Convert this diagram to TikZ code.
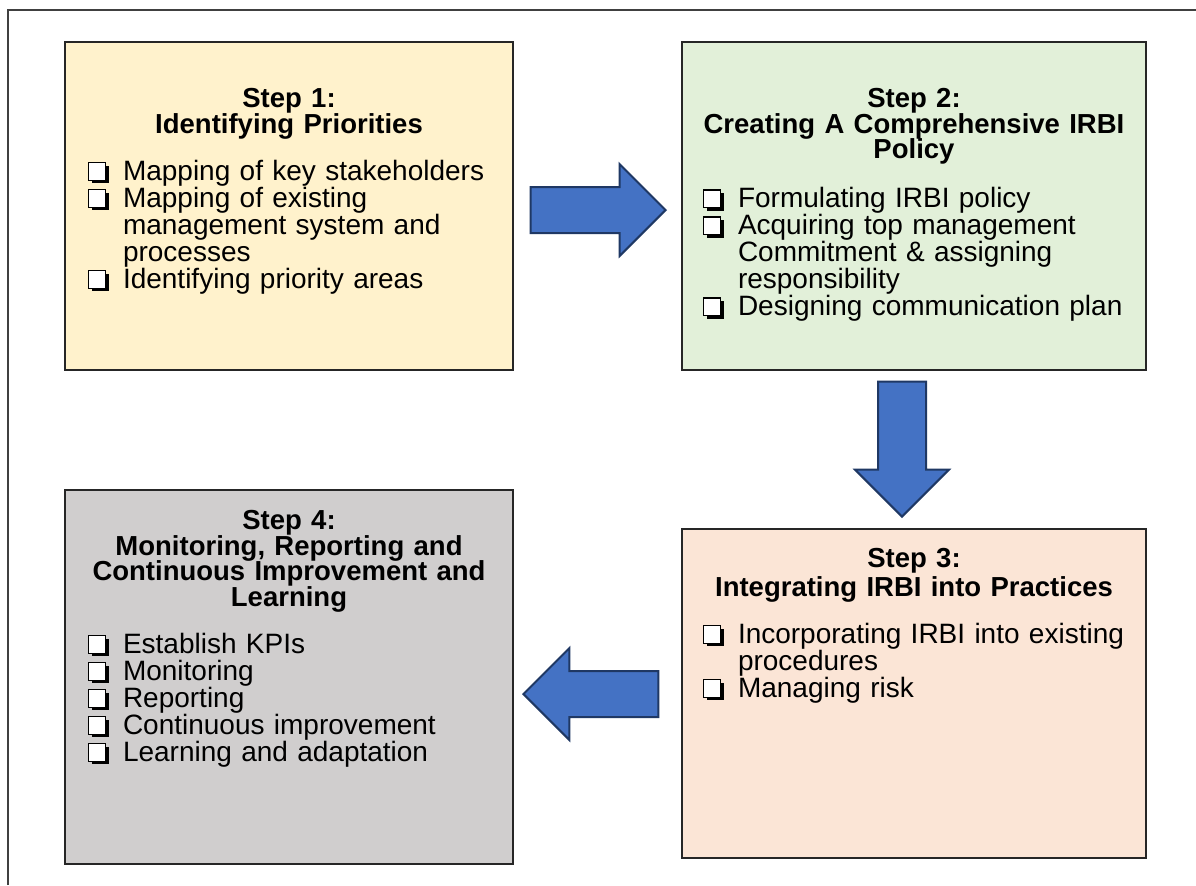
\documentclass[tikz,border=0pt]{standalone}
\usepackage{fontspec}
\setmainfont{Liberation Sans}
\usetikzlibrary{shapes.arrows,positioning}
\definecolor{stepyellow}{RGB}{255,242,204}
\definecolor{stepgreen}{RGB}{226,240,217}
\definecolor{steporange}{RGB}{251,229,214}
\definecolor{stepgray}{RGB}{208,206,206}
\definecolor{arrowblue}{RGB}{68,114,196}
\definecolor{arrowedge}{RGB}{31,56,100}
\tikzset{
  stepbox/.style={rectangle,draw=black!85,line width=0.75pt,fill=#1,inner sep=0pt},
  steptxt/.style={text width=#1,inner sep=0pt,anchor=north,
    font=\fontsize{14pt}{13.5pt}\selectfont,
    execute at begin node={\lineskiplimit=-20pt\raggedright}},
  blockarr/.style={single arrow,draw=arrowedge,fill=arrowblue,line width=1pt,
    minimum height=67.5pt,minimum width=45pt,single arrow head extend=11.5pt,
    single arrow tip angle=90,inner sep=11pt,anchor=tip},
  frameline/.style={draw=black!75,line width=0.8pt}
}
% shadowed check box in front of each item
\newcommand\chkbox{\tikz[baseline=0pt]{%
  \fill[black] (1.6pt,-1.6pt) rectangle (10.1pt,7.2pt);
  \draw[black,line width=0.55pt,fill=white] (0pt,0pt) rectangle (8.5pt,8.8pt);}}
\newcommand\stephead[1]{{\centering\bfseries\fontsize{13.75pt}{12.75pt}\selectfont #1\par}\vspace{10pt}}
\newcommand\stepitem[1]{\par\noindent\hangindent=17.5pt\hangafter=1%
  \makebox[17.5pt][l]{\chkbox}#1\par}

\begin{document}
\begin{tikzpicture}[x=0.5pt,y=-0.5pt]
    \fill[white] (0,0) rectangle (1196,885);
    \useasboundingbox (0,0) rectangle (1196,885);

    % Frame, top and left edges only
    \coordinate (fbl) at (8,885);
    \coordinate (ftl) at (8,10);
    \coordinate (ftr) at (1196,10);
    \draw[frameline] (fbl) -- (ftl) -- (ftr);

    % Step boxes
    \node[stepbox=stepyellow,minimum width=224pt,minimum height=164pt] (s1) at (289,206) {};
    \node[stepbox=stepgreen,minimum width=232pt,minimum height=164pt] (s2) at (914,206) {};
    \node[stepbox=steporange,minimum width=232pt,minimum height=164.5pt] (s3) at (914,693.5) {};
    \node[stepbox=stepgray,minimum width=224pt,minimum height=187pt] (s4) at (289,677) {};

    % Step 1
    \node[steptxt=201pt] (t1) at (289,88) {%
      \stephead{Step 1:\\Identifying Priorities}
      \stepitem{Mapping of key stakeholders}
      \stepitem{Mapping of existing\newline management system and\newline processes}
      \stepitem{Identifying priority areas}};

    % Step 2
    \node[steptxt=211pt] (t2) at (914,88) {%
      \stephead{Step 2:\\Creating A Comprehensive IRBI\\Policy}
      \vspace{1pt}
      \stepitem{Formulating IRBI policy}
      \stepitem{Acquiring top management\newline Commitment \& assigning\newline responsibility}
      \stepitem{Designing communication plan}};

    % Step 3
    \node[steptxt=211pt] (t3) at (914,548) {%
      \stephead{Step 3:\\[1.5pt]Integrating IRBI into Practices}
      \stepitem{Incorporating IRBI into existing\newline procedures}
      \stepitem{Managing risk}};

    % Step 4
    \node[steptxt=201pt] (t4) at (289,510) {%
      \stephead{Step 4:\\Monitoring, Reporting and\\Continuous Improvement and\\Learning}
      \stepitem{Establish KPIs}
      \stepitem{Monitoring}
      \stepitem{Reporting}
      \stepitem{Continuous improvement}
      \stepitem{Learning and adaptation}};

    % Block arrows between the steps (placed by their tips)
    \node[blockarr] (a12) at (667,210) {};
    \node[blockarr,shape border rotate=270,minimum width=46.5pt,inner sep=11.5pt] (a23) at (902,518) {};
    \node[blockarr,shape border rotate=180] (a34) at (522,694) {};
  \end{tikzpicture}
\end{document}
